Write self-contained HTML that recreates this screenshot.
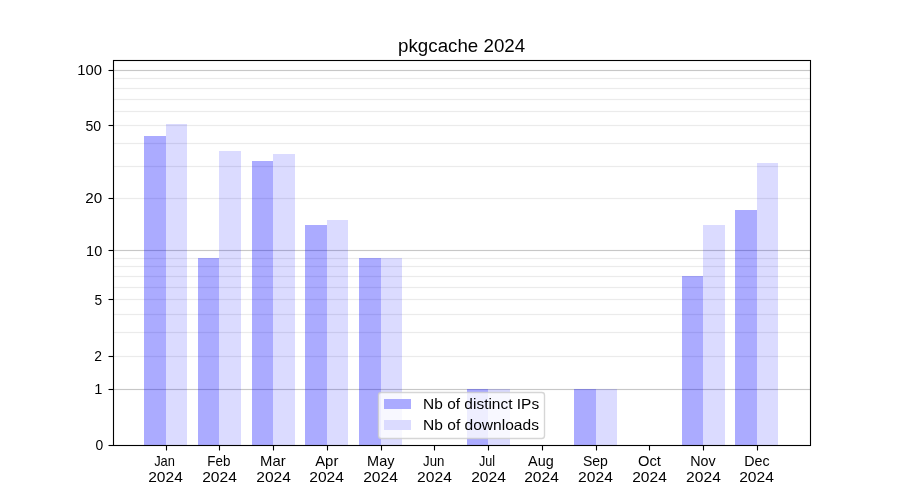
<!DOCTYPE html><html><head><meta charset="utf-8"><title>pkgcache 2024</title><style>html,body{margin:0;padding:0;background:#fff;}svg{display:block;}text{font-family:"Liberation Sans",sans-serif;fill:#000;}.t{will-change:transform;}</style></head><body><svg width="900" height="500" viewBox="0 0 900 500"><rect x="0" y="0" width="900" height="500" fill="#fff"/><g shape-rendering="crispEdges"><rect x="113" y="355" width="697" height="3" fill="#fdfdfd"/><rect x="113" y="356" width="697" height="1" fill="#ebebeb"/><rect x="113" y="331" width="697" height="3" fill="#fdfdfd"/><rect x="113" y="332" width="697" height="1" fill="#ebebeb"/><rect x="113" y="313" width="697" height="3" fill="#fdfdfd"/><rect x="113" y="314" width="697" height="1" fill="#ebebeb"/><rect x="113" y="298" width="697" height="3" fill="#fdfdfd"/><rect x="113" y="299" width="697" height="1" fill="#ebebeb"/><rect x="113" y="286" width="697" height="3" fill="#fdfdfd"/><rect x="113" y="287" width="697" height="1" fill="#ebebeb"/><rect x="113" y="275" width="697" height="3" fill="#fdfdfd"/><rect x="113" y="276" width="697" height="1" fill="#ebebeb"/><rect x="113" y="265" width="697" height="3" fill="#fdfdfd"/><rect x="113" y="266" width="697" height="1" fill="#ebebeb"/><rect x="113" y="257" width="697" height="3" fill="#fdfdfd"/><rect x="113" y="258" width="697" height="1" fill="#ebebeb"/><rect x="113" y="197" width="697" height="3" fill="#fdfdfd"/><rect x="113" y="198" width="697" height="1" fill="#ebebeb"/><rect x="113" y="165" width="697" height="3" fill="#fdfdfd"/><rect x="113" y="166" width="697" height="1" fill="#ebebeb"/><rect x="113" y="142" width="697" height="3" fill="#fdfdfd"/><rect x="113" y="143" width="697" height="1" fill="#ebebeb"/><rect x="113" y="124" width="697" height="3" fill="#fdfdfd"/><rect x="113" y="125" width="697" height="1" fill="#ebebeb"/><rect x="113" y="110" width="697" height="3" fill="#fdfdfd"/><rect x="113" y="111" width="697" height="1" fill="#ebebeb"/><rect x="113" y="98" width="697" height="3" fill="#fdfdfd"/><rect x="113" y="99" width="697" height="1" fill="#ebebeb"/><rect x="113" y="87" width="697" height="3" fill="#fdfdfd"/><rect x="113" y="88" width="697" height="1" fill="#ebebeb"/><rect x="113" y="77" width="697" height="3" fill="#fdfdfd"/><rect x="113" y="78" width="697" height="1" fill="#ebebeb"/><rect x="113" y="388" width="697" height="3" fill="#fbfbfb"/><rect x="113" y="389" width="697" height="1" fill="#c7c7c7"/><rect x="113" y="249" width="697" height="3" fill="#fbfbfb"/><rect x="113" y="250" width="697" height="1" fill="#c7c7c7"/><rect x="113" y="69" width="697" height="3" fill="#fbfbfb"/><rect x="113" y="70" width="697" height="1" fill="#c7c7c7"/><rect x="144" y="136" width="22" height="309" fill="#0000ff" fill-opacity="0.33"/><rect x="166" y="124" width="21" height="321" fill="#0000ff" fill-opacity="0.14"/><rect x="198" y="258" width="21" height="187" fill="#0000ff" fill-opacity="0.33"/><rect x="219" y="151" width="22" height="294" fill="#0000ff" fill-opacity="0.14"/><rect x="252" y="161" width="21" height="284" fill="#0000ff" fill-opacity="0.33"/><rect x="273" y="154" width="22" height="291" fill="#0000ff" fill-opacity="0.14"/><rect x="305" y="225" width="22" height="220" fill="#0000ff" fill-opacity="0.33"/><rect x="327" y="220" width="21" height="225" fill="#0000ff" fill-opacity="0.14"/><rect x="359" y="258" width="22" height="187" fill="#0000ff" fill-opacity="0.33"/><rect x="381" y="258" width="21" height="187" fill="#0000ff" fill-opacity="0.14"/><rect x="467" y="389" width="21" height="56" fill="#0000ff" fill-opacity="0.33"/><rect x="488" y="389" width="22" height="56" fill="#0000ff" fill-opacity="0.14"/><rect x="574" y="389" width="22" height="56" fill="#0000ff" fill-opacity="0.33"/><rect x="596" y="389" width="21" height="56" fill="#0000ff" fill-opacity="0.14"/><rect x="682" y="276" width="21" height="169" fill="#0000ff" fill-opacity="0.33"/><rect x="703" y="225" width="22" height="220" fill="#0000ff" fill-opacity="0.14"/><rect x="735" y="210" width="22" height="235" fill="#0000ff" fill-opacity="0.33"/><rect x="757" y="163" width="21" height="282" fill="#0000ff" fill-opacity="0.14"/></g><g fill="none" stroke="#000" stroke-width="1.11" stroke-linecap="square"><path d="M113.5 60.5V445.5M810.5 60.5V445.5M113.5 60.5H810.5M113.5 445.5H810.5"/></g><g fill="#000" fill-opacity="0.055" shape-rendering="crispEdges"><rect x="113" y="59" width="698" height="1"/><rect x="114" y="61" width="695" height="1"/><rect x="114" y="444" width="695" height="1"/><rect x="113" y="446" width="698" height="1"/></g><g stroke="#000" stroke-width="1.11"><path d="M108.5 445.5H113.5"/><path d="M108.5 389.5H113.5"/><path d="M108.5 356.5H113.5"/><path d="M108.5 299.5H113.5"/><path d="M108.5 250.5H113.5"/><path d="M108.5 198.5H113.5"/><path d="M108.5 125.5H113.5"/><path d="M108.5 70.5H113.5"/><path d="M166.5 445V450.5"/><path d="M219.5 445V450.5"/><path d="M273.5 445V450.5"/><path d="M327.5 445V450.5"/><path d="M381.5 445V450.5"/><path d="M434.5 445V450.5"/><path d="M488.5 445V450.5"/><path d="M542.5 445V450.5"/><path d="M596.5 445V450.5"/><path d="M649.5 445V450.5"/><path d="M703.5 445V450.5"/><path d="M757.5 445V450.5"/></g><rect x="378.45" y="392.5" width="166.05" height="46.06" rx="2.8" ry="2.8" fill="#fff" fill-opacity="0.8" stroke="#ccc" stroke-opacity="0.8" stroke-width="1.39"/><rect x="384" y="399" width="27" height="10" fill="#ababff" shape-rendering="crispEdges"/><rect x="384" y="420" width="27" height="10" fill="#dbdbff" shape-rendering="crispEdges"/><g class="t" opacity="0.999"><text transform="translate(461.61,51.67) scale(1.0615,1)" font-size="17.66" text-anchor="middle">pkgcache 2024</text><text transform="translate(103.18,450.00) scale(0.9414,1)" font-size="14.72" text-anchor="end">0</text><text transform="translate(102.45,394.00) scale(0.9923,1)" font-size="14.72" text-anchor="end">1</text><text transform="translate(102.07,361.00) scale(0.9442,1)" font-size="14.72" text-anchor="end">2</text><text transform="translate(102.24,305.00) scale(0.9329,1)" font-size="14.72" text-anchor="end">5</text><text transform="translate(102.23,256.00) scale(0.9849,1)" font-size="14.72" text-anchor="end">10</text><text transform="translate(102.15,203.00) scale(1.0346,1)" font-size="14.72" text-anchor="end">20</text><text transform="translate(101.17,131.00) scale(0.9585,1)" font-size="14.72" text-anchor="end">50</text><text transform="translate(102.00,75.00) scale(1.0061,1)" font-size="14.72" text-anchor="end">100</text><text transform="translate(164.54,466.00) scale(0.8762,1)" font-size="14.72" text-anchor="middle">Jan</text><text transform="translate(165.52,482.00) scale(1.0575,1)" font-size="14.72" text-anchor="middle">2024</text><text transform="translate(218.80,466.00) scale(0.9113,1)" font-size="14.72" text-anchor="middle">Feb</text><text transform="translate(219.51,482.00) scale(1.0620,1)" font-size="14.72" text-anchor="middle">2024</text><text transform="translate(272.90,466.00) scale(1.0091,1)" font-size="14.72" text-anchor="middle">Mar</text><text transform="translate(273.56,482.00) scale(1.0601,1)" font-size="14.72" text-anchor="middle">2024</text><text transform="translate(326.75,466.00) scale(1.0145,1)" font-size="14.72" text-anchor="middle">Apr</text><text transform="translate(326.55,482.00) scale(1.0586,1)" font-size="14.72" text-anchor="middle">2024</text><text transform="translate(380.78,466.00) scale(0.9842,1)" font-size="14.72" text-anchor="middle">May</text><text transform="translate(380.55,482.00) scale(1.0625,1)" font-size="14.72" text-anchor="middle">2024</text><text transform="translate(433.72,466.00) scale(0.9006,1)" font-size="14.72" text-anchor="middle">Jun</text><text transform="translate(434.48,482.00) scale(1.0628,1)" font-size="14.72" text-anchor="middle">2024</text><text transform="translate(487.08,466.00) scale(0.8576,1)" font-size="14.72" text-anchor="middle">Jul</text><text transform="translate(488.52,482.00) scale(1.0611,1)" font-size="14.72" text-anchor="middle">2024</text><text transform="translate(540.90,466.00) scale(0.9782,1)" font-size="14.72" text-anchor="middle">Aug</text><text transform="translate(541.52,482.00) scale(1.0602,1)" font-size="14.72" text-anchor="middle">2024</text><text transform="translate(595.37,466.00) scale(0.9550,1)" font-size="14.72" text-anchor="middle">Sep</text><text transform="translate(595.52,482.00) scale(1.0635,1)" font-size="14.72" text-anchor="middle">2024</text><text transform="translate(649.46,466.00) scale(0.9994,1)" font-size="14.72" text-anchor="middle">Oct</text><text transform="translate(649.52,482.00) scale(1.0569,1)" font-size="14.72" text-anchor="middle">2024</text><text transform="translate(702.91,466.00) scale(0.9729,1)" font-size="14.72" text-anchor="middle">Nov</text><text transform="translate(703.46,482.00) scale(1.0608,1)" font-size="14.72" text-anchor="middle">2024</text><text transform="translate(756.83,466.00) scale(0.9701,1)" font-size="14.72" text-anchor="middle">Dec</text><text transform="translate(756.51,482.00) scale(1.0625,1)" font-size="14.72" text-anchor="middle">2024</text><text transform="translate(423.09,409.00) scale(1.0515,1)" font-size="14.72" text-anchor="start">Nb of distinct IPs</text><text transform="translate(423.03,430.00) scale(1.0583,1)" font-size="14.72" text-anchor="start">Nb of downloads</text></g></svg></body></html>
